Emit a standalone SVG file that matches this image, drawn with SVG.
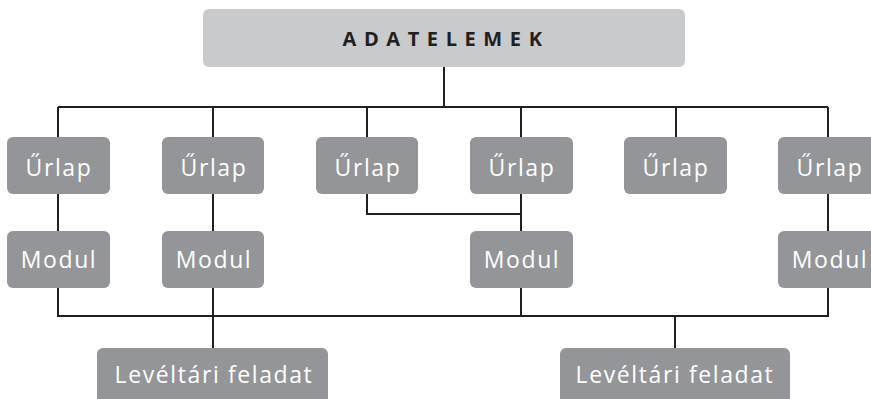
<svg xmlns="http://www.w3.org/2000/svg" width="871" height="399" viewBox="0 0 871 399">
<style>
.box{fill:#939598}
.top{fill:#c9cacc}
.lbl{font-family:"Open Sans","Noto Sans",sans-serif;font-size:23px;fill:#ffffff;text-anchor:middle;letter-spacing:1.6px}
.ttl{font-family:"Open Sans","Noto Sans",sans-serif;font-size:20px;font-weight:bold;fill:#231f20;text-anchor:middle;letter-spacing:7.6px}
.ln{fill:none;stroke:#231f20;stroke-width:2}
</style>
<rect width="871" height="399" fill="#ffffff"/>
<g id="connectors" class="ln">
<path d="M444 67V107M58 107H828M58 107V137M213 107V137M367 107V137M521 107V137M676 107V137M828 107V137"/>
<path d="M58 194V231M213 194V231M521 194V231M828 194V231M367 194V214H521"/>
<path d="M58 288V316H828V288M213 288V348M521 288V316M675 316V348"/>
</g>
<g id="adatelemek"><rect class="top" x="203" y="9" width="482" height="58" rx="6"/><text class="ttl" x="446" y="46">ADATELEMEK</text></g>
<g id="urlap1"><rect class="box" x="7" y="137" width="103" height="57" rx="6"/><text class="lbl" x="59" y="176">Űrlap</text></g>
<g id="urlap2"><rect class="box" x="162" y="137" width="102" height="57" rx="6"/><text class="lbl" x="214" y="176">Űrlap</text></g>
<g id="urlap3"><rect class="box" x="316" y="137" width="102" height="57" rx="6"/><text class="lbl" x="368" y="176">Űrlap</text></g>
<g id="urlap4"><rect class="box" x="470" y="137" width="103" height="57" rx="6"/><text class="lbl" x="522" y="176">Űrlap</text></g>
<g id="urlap5"><rect class="box" x="624" y="137" width="103" height="57" rx="6"/><text class="lbl" x="676" y="176">Űrlap</text></g>
<g id="urlap6"><rect class="box" x="778" y="137" width="103" height="57" rx="6"/><text class="lbl" x="830" y="176">Űrlap</text></g>
<g id="modul1"><rect class="box" x="7" y="231" width="103" height="57" rx="6"/><text class="lbl" x="59" y="268">Modul</text></g>
<g id="modul2"><rect class="box" x="162" y="231" width="102" height="57" rx="6"/><text class="lbl" x="214" y="268">Modul</text></g>
<g id="modul3"><rect class="box" x="470" y="231" width="103" height="57" rx="6"/><text class="lbl" x="522" y="268">Modul</text></g>
<g id="modul6"><rect class="box" x="778" y="231" width="103" height="57" rx="6"/><text class="lbl" x="830" y="268">Modul</text></g>
<g id="feladat1"><rect class="box" x="97" y="348" width="231" height="60" rx="6"/><text class="lbl" x="214" y="383">Levéltári feladat</text></g>
<g id="feladat2"><rect class="box" x="560" y="348" width="230" height="60" rx="6"/><text class="lbl" x="675" y="383">Levéltári feladat</text></g>
</svg>
